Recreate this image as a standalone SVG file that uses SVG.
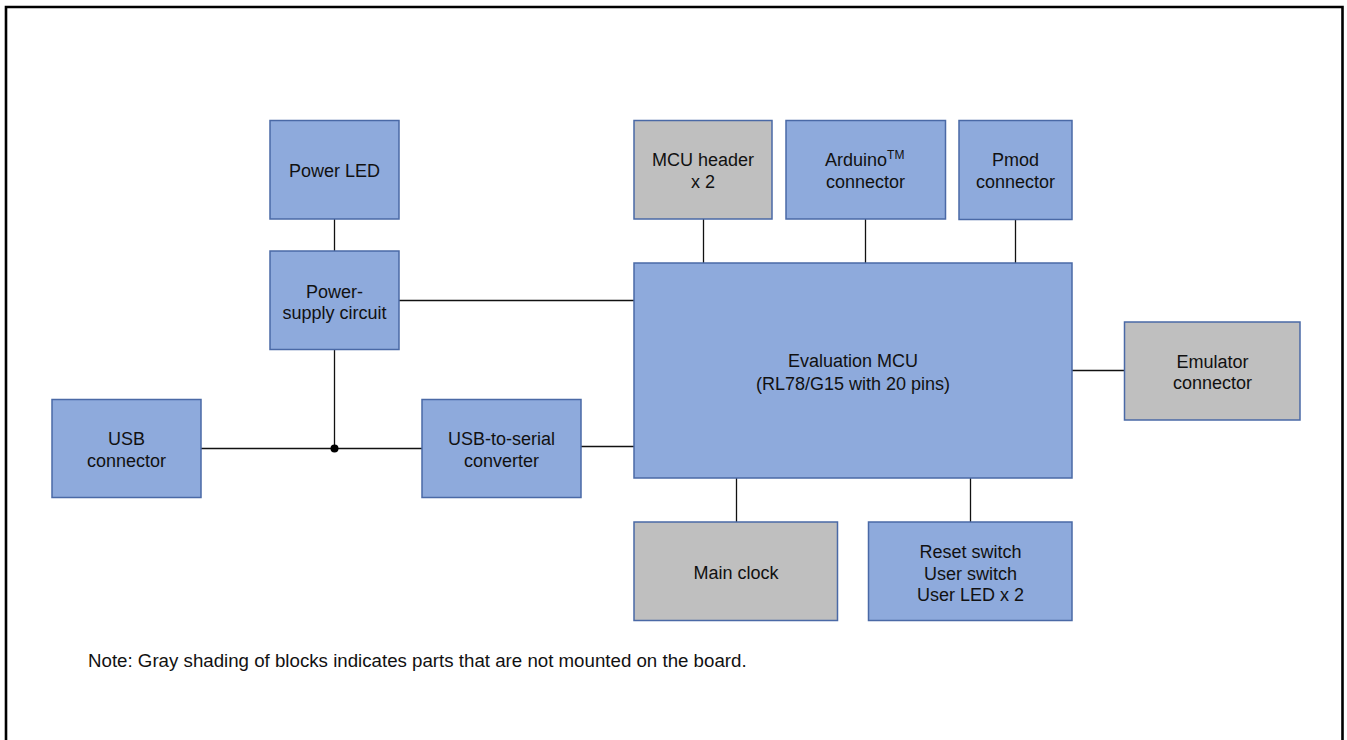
<svg xmlns="http://www.w3.org/2000/svg" width="1347" height="740" viewBox="0 0 1347 740">
<style>
.b{fill:#8eaadc;stroke:#4a69a6;stroke-width:1.5}
.g{fill:#bfbfbf;stroke:#4a69a6;stroke-width:1.5}
.t{font-family:"Liberation Sans",Arial,sans-serif;font-size:18px;fill:#111;text-anchor:middle}
.c{stroke:#111;stroke-width:1.3;fill:none}
</style>
<rect x="0" y="0" width="1347" height="740" fill="#fff"/>
<path d="M6,742 V7 H1342.5 V742" fill="none" stroke="#000" stroke-width="2.6"/>
<g id="connectors">
<line class="c" x1="334.5" y1="219" x2="334.5" y2="251"/>
<line class="c" x1="334.5" y1="349" x2="334.5" y2="448.5"/>
<line class="c" x1="399" y1="300.5" x2="634" y2="300.5"/>
<line class="c" x1="201" y1="448.5" x2="422" y2="448.5"/>
<line class="c" x1="581" y1="446.5" x2="634" y2="446.5"/>
<line class="c" x1="703.5" y1="219" x2="703.5" y2="263"/>
<line class="c" x1="865.5" y1="219" x2="865.5" y2="263"/>
<line class="c" x1="1015.5" y1="220" x2="1015.5" y2="263"/>
<line class="c" x1="1072" y1="370.5" x2="1124" y2="370.5"/>
<line class="c" x1="736.5" y1="478" x2="736.5" y2="522"/>
<line class="c" x1="970.5" y1="478" x2="970.5" y2="522"/>
<circle cx="334.5" cy="448.5" r="4" fill="#000"/>
</g>
<g id="power-led"><rect class="b" x="270" y="120.5" width="129" height="98.5"/><text class="t" x="334.5" y="177">Power LED</text></g>
<g id="power-supply"><rect class="b" x="270" y="251" width="129" height="98.5"/><text class="t" x="334.5" y="298">Power-</text><text class="t" x="334.5" y="319">supply circuit</text></g>
<g id="usb-connector"><rect class="b" x="52" y="399.5" width="149" height="98"/><text class="t" x="126.5" y="445">USB</text><text class="t" x="126.5" y="467">connector</text></g>
<g id="usb-serial"><rect class="b" x="422" y="399.5" width="159" height="98"/><text class="t" x="501.5" y="445">USB-to-serial</text><text class="t" x="501.5" y="467">converter</text></g>
<g id="mcu-header"><rect class="g" x="634" y="120.5" width="138" height="98.5"/><text class="t" x="703" y="166">MCU header</text><text class="t" x="703" y="187.5">x 2</text></g>
<g id="arduino"><rect class="b" x="786" y="120.5" width="159.5" height="98.5"/><text class="t" x="825" y="166" style="text-anchor:start">Arduino<tspan font-size="12" dy="-7">TM</tspan></text><text class="t" x="865.5" y="187.5">connector</text></g>
<g id="pmod"><rect class="b" x="959" y="120.5" width="113" height="99"/><text class="t" x="1015.5" y="166">Pmod</text><text class="t" x="1015.5" y="187.5">connector</text></g>
<g id="mcu"><rect class="b" x="634" y="263" width="438" height="215"/><text class="t" x="853" y="367">Evaluation MCU</text><text class="t" x="853" y="389.5">(RL78/G15 with 20 pins)</text></g>
<g id="emulator"><rect class="g" x="1124.5" y="322" width="175.5" height="98"/><text class="t" x="1212.5" y="367.5">Emulator</text><text class="t" x="1212.5" y="389">connector</text></g>
<g id="main-clock"><rect class="g" x="634" y="522" width="203.5" height="98.5"/><text class="t" x="736" y="579">Main clock</text></g>
<g id="switches"><rect class="b" x="868.5" y="522" width="203.5" height="98.5"/><text class="t" x="970.5" y="557.5">Reset switch</text><text class="t" x="970.5" y="579.5">User switch</text><text class="t" x="970.5" y="601">User LED x 2</text></g>
<text class="t" x="88" y="667" style="text-anchor:start;font-size:18.7px">Note: Gray shading of blocks indicates parts that are not mounted on the board.</text>
</svg>
